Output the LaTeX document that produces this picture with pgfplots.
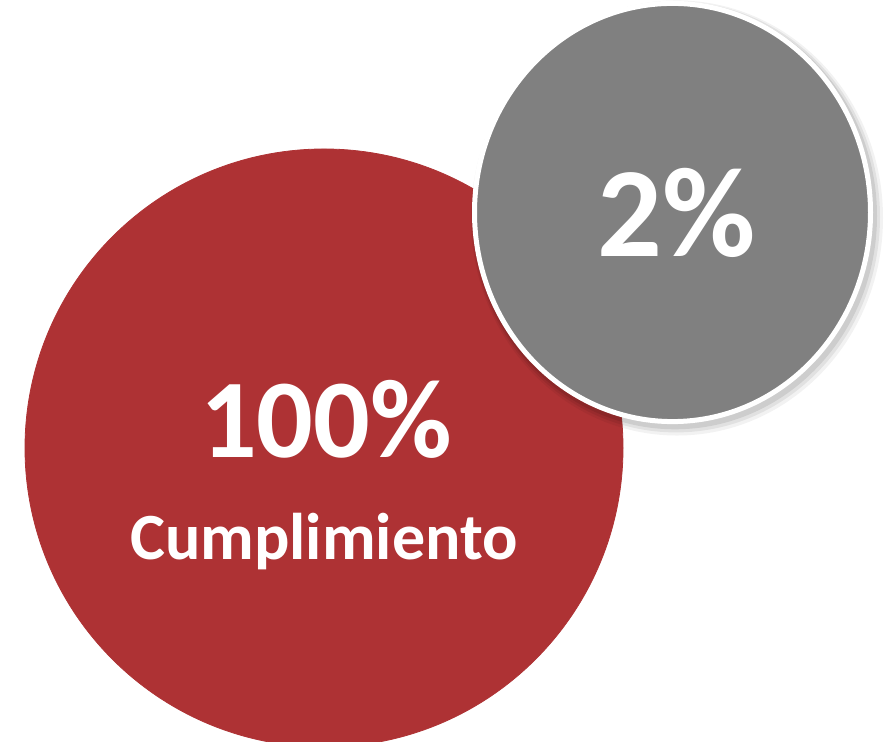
\documentclass[border=0pt]{standalone}
\usepackage{pgfplots}
\usepackage{fontspec}
\setmainfont{Carlito}
\pgfplotsset{compat=1.18}
\definecolor{bubred}{RGB}{174,50,52}
\definecolor{bubgray}{RGB}{128,128,128}
\begin{document}
\begin{tikzpicture}
\begin{axis}[
  width=442pt, height=371pt, scale only axis,
  xmin=0, xmax=884, ymin=0, ymax=742,
  hide axis, clip=false,
]
% large bubble: 100% (radius 299 px -> mark size 149.5pt)
\addplot[only marks, mark=*, mark size=149.5pt, color=bubred]
  coordinates {(324,294)};
% soft shadow of the small bubble
\addplot[only marks, mark=*, mark size=103pt, color=black, fill opacity=0.05, draw opacity=0,
  mark options={yscale=1.056}]
  coordinates {(677,524)};
\addplot[only marks, mark=*, mark size=102pt, color=black, fill opacity=0.07, draw opacity=0,
  mark options={yscale=1.056}]
  coordinates {(676,525)};
\addplot[only marks, mark=*, mark size=101pt, color=black, fill opacity=0.09, draw opacity=0,
  mark options={yscale=1.056}]
  coordinates {(675,526)};
% small bubble: 2% (radius 198 px -> mark size 99pt)
\addplot[only marks, mark=*, mark size=99pt, draw=white, fill=bubgray, line width=2.5pt,
  mark options={yscale=1.056}]
  coordinates {(672.5,529.5)};
\coordinate (t1) at (axis cs:326,284);
\coordinate (t2) at (axis cs:324,182);
\coordinate (t3) at (axis cs:677,485);
\end{axis}
\node[anchor=base, text=white, font=\fontsize{56}{60}\selectfont\bfseries, inner sep=0pt] at (t1) {100\%};
\node[anchor=base, text=white, font=\fontsize{33}{36}\selectfont\bfseries, inner sep=0pt] at (t2) {Cumplimiento};
\node[anchor=base, text=white, font=\fontsize{64}{70}\selectfont\bfseries, inner sep=0pt] at (t3) {2\%};
\pgfresetboundingbox
\path[use as bounding box] (0,0) rectangle (442pt,371pt);
\end{tikzpicture}
\end{document}
